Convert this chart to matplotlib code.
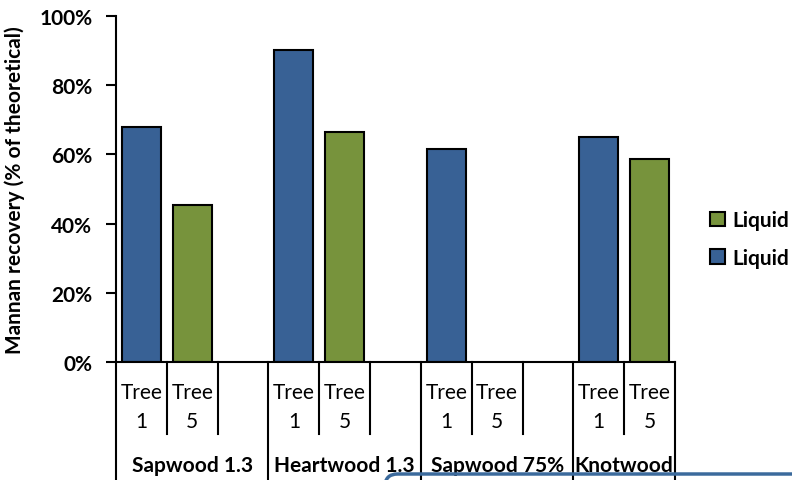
import numpy as np
import matplotlib.pyplot as plt
from matplotlib.patches import FancyBboxPatch, Patch

plt.rcParams['font.family'] = ['Lato', 'DejaVu Sans']

# mannan recovery per slot (11 slots, empty slots hold None)
tree_labels = ['Tree\n1', 'Tree\n5', '', 'Tree\n1', 'Tree\n5', '', 'Tree\n1', 'Tree\n5', '', 'Tree\n1', 'Tree\n5']
groups = ['Sapwood 1.3', 'Heartwood 1.3', 'Sapwood 75%', 'Knotwood']
group_sizes = [3, 3, 3, 2]
blue_slots = [0, 3, 6, 9]
blue_vals = [67.8, 90.0, 61.5, 65.0]
green_slots = [1, 4, 10]
green_vals = [45.5, 66.4, 58.7]
legend_labels = ['Liquid', 'Liquid']

blue = '#386195'
green = '#77933c'
fs = 15

fig = plt.figure(figsize=(7.92, 4.81), dpi=100)
ax = fig.add_axes([116/792, 1-363.3/481, (675-116)/792, (363.3-16.7)/481])

x = np.array(blue_slots) + 0.5
ax.bar(x, blue_vals, width=0.77, color=blue, edgecolor='black', linewidth=1.5)
x = np.array(green_slots) + 0.5
ax.bar(x, green_vals, width=0.77, color=green, edgecolor='black', linewidth=1.5)

ax.set_xlim(0, len(tree_labels))
ax.set_ylim(0, 100)
ax.set_yticks(np.arange(0, 101, 20))
ax.set_yticklabels([f'{v}%' for v in range(0, 101, 20)], fontsize=fs, fontweight='bold')
ax.tick_params(axis='y', direction='out', length=7, width=1.5, pad=10)
ax.set_xticks([])
for s in ['top', 'right']:
    ax.spines[s].set_visible(False)
ax.spines['left'].set_linewidth(1.5)
ax.spines['bottom'].set_linewidth(1.5)
ax.set_ylabel('Mannan recovery (% of theoretical)', fontsize=fs, fontweight='bold', labelpad=10)

# category table under the axis
tr = ax.get_xaxis_transform()
short_bot = -0.207
long_bot = -0.4
for i, lab in enumerate(tree_labels):
    if lab:
        t, n = lab.split('\n')
        ax.text(i + 0.5, -0.085, t, transform=tr, ha='center', va='center', fontsize=fs)
        ax.text(i + 0.5, -0.168, n, transform=tr, ha='center', va='center', fontsize=fs)
edges = np.cumsum([0] + group_sizes)
for i in range(1, len(tree_labels)):
    if i not in edges:
        ax.plot([i, i], [0, short_bot], transform=tr, color='black', lw=1.5, clip_on=False)
for e in edges:
    ax.plot([e, e], [0, long_bot], transform=tr, color='black', lw=1.5, clip_on=False)
for g, a, b in zip(groups, edges[:-1], edges[1:]):
    ax.text((a + b) / 2, -0.297, g, transform=tr, ha='center', va='center', fontsize=fs, fontweight='bold')

handles = [Patch(facecolor=green, edgecolor='black', lw=1.5), Patch(facecolor=blue, edgecolor='black', lw=1.5)]
fig.legend(handles, legend_labels, loc='center left', bbox_to_anchor=(710/792, 1-240/481),
           frameon=False, prop={'weight': 'bold', 'size': fs}, handlelength=0.7, handleheight=0.7,
           handletextpad=0.35, labelspacing=0.85, borderpad=0, borderaxespad=0)

# rounded outline shape at the lower right
box = FancyBboxPatch((385/792, -0.2), 0.6, 0.2 + 1-475/481, boxstyle='round,pad=0,rounding_size=0.016',
                     transform=fig.transFigure, fill=False, edgecolor='#3b6a9c', lw=2.5, clip_on=False,
                     mutation_aspect=792/481)
fig.patches.append(box)

fig.savefig('out.png', dpi=100)
